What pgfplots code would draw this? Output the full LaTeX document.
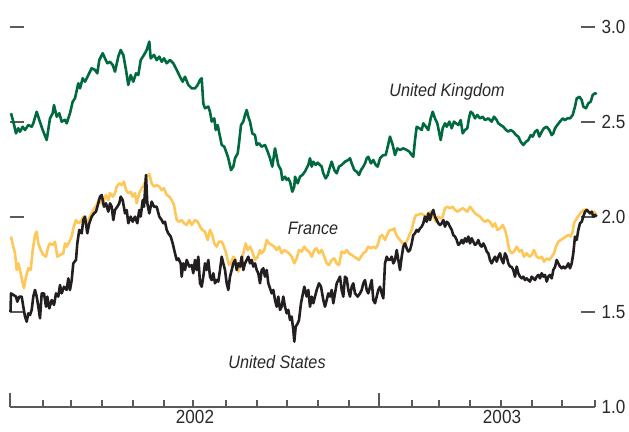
\documentclass[border=0pt]{standalone}
\usepackage{fontspec}
\setmainfont{Liberation Sans}[FakeStretch=0.9]
\usepackage{pgfplots}
\pgfplotsset{compat=1.18}
\definecolor{ukgreen}{RGB}{0,106,62}
\definecolor{frgold}{RGB}{255,198,88}
\definecolor{usblack}{RGB}{35,31,32}
\definecolor{axgray}{RGB}{90,90,90}
\definecolor{txtgray}{RGB}{40,40,40}
\begin{document}
\begin{tikzpicture}
\begin{axis}[
  width=585pt, height=380pt, scale only axis,
  xmin=0, xmax=585, ymin=1, ymax=3,
  clip=false,
  axis line style={draw=none},
  tick align=inside,
  major tick length=14pt,
  minor tick length=7pt,
  tick style={axgray, line width=1.2pt},
  xtick pos=bottom,
  xtick={0,369},
  xticklabels={},
  minor xtick={33,61,92,123,154,183,216,247,277,308,339,402,429,460,491,522,552,585},
  extra x ticks={185,492},
  extra x tick labels={2002,2003},
  extra x tick style={major tick length=0pt, tick style={draw=none}},
  ytick={1,1.5,2,2.5,3},
  ytick pos=both,
  yticklabel pos=right,
  ticklabel style={font=\fontsize{19}{22}\selectfont, text=txtgray},
  /pgf/number format/assume math mode=true,
  yticklabel style={/pgf/number format/.cd, fixed, fixed zerofill, precision=1, /tikz/.cd, xshift=3pt},
]
\draw[axgray, line width=1.3pt] (axis cs:0,1) -- (axis cs:585,1);

\addplot[ukgreen, line width=2.6pt, line join=round] coordinates {
(1,2.546)(3.3,2.502)(6,2.440)(8.3,2.467)(10,2.449)(12.7,2.475)(15,2.458)(18.3,2.484)(21.7,2.475)(23.3,2.493)(26.7,2.554)(29.3,2.511)(32.7,2.458)(36.7,2.405)(40,2.519)(42.7,2.546)(44,2.589)(46.7,2.528)(49.3,2.546)(51.7,2.502)(55,2.511)(56.7,2.493)(60,2.546)(62.7,2.607)(65,2.625)(68.3,2.704)(70,2.677)(72.7,2.730)(75,2.712)(78.3,2.747)(81.7,2.783)(85,2.774)(87.3,2.756)(89.3,2.826)(92.7,2.862)(95,2.835)(97.3,2.809)(100,2.817)(102.7,2.800)(105,2.765)(108.3,2.844)(110.7,2.879)(113.3,2.853)(116,2.774)(118.3,2.695)(120.7,2.747)(123.3,2.712)(126,2.756)(128.3,2.747)(130.7,2.826)(134,2.853)(136.7,2.879)(139.3,2.923)(140.7,2.835)(144,2.853)(146.7,2.826)(149.3,2.844)(151.7,2.817)(154,2.835)(156.7,2.809)(160,2.826)(163.3,2.809)(166.7,2.774)(170,2.738)(172.7,2.712)(175,2.738)(178.3,2.695)(181.7,2.677)(185,2.677)
(187.7,2.695)(190,2.721)(191.7,2.730)(193.3,2.598)(195,2.572)(198.3,2.581)(200,2.554)(201.7,2.502)(204.3,2.519)(205.7,2.458)(207.7,2.484)(209,2.449)(211.7,2.379)(214.3,2.370)(216.7,2.335)(218.3,2.309)(221,2.247)(223.3,2.265)(225,2.309)(227.7,2.335)(229,2.388)(231,2.484)(233.3,2.502)(235,2.537)(236.7,2.563)(238.3,2.528)(240,2.502)(242.3,2.440)(245,2.431)(246.7,2.379)(249,2.388)(251.7,2.370)(255,2.379)(257.7,2.344)(260,2.309)(262.3,2.265)(265,2.361)(266.7,2.317)(268.3,2.274)(271,2.247)(272.3,2.195)(275,2.212)(276.7,2.195)(278.3,2.203)(280,2.186)(282.3,2.133)(284.3,2.160)(285,2.212)(287.7,2.177)(290,2.212)(292.3,2.221)(295,2.239)(298.3,2.274)(300,2.309)(301.7,2.265)(303.3,2.291)(305.7,2.274)(307.7,2.286)(310,2.274)(311.7,2.265)(313.3,2.230)(315.7,2.203)(317.7,2.221)(320,2.265)(321.7,2.291)(324.3,2.247)(326.7,2.230)(329,2.265)(331.7,2.274)(335,2.291)(338.3,2.300)(340,2.309)(341.7,2.282)(344.3,2.247)(346.7,2.239)(349,2.221)(351,2.247)(353.3,2.265)(355,2.282)(356.7,2.309)(358.3,2.317)(361,2.282)(363.3,2.300)(365.7,2.274)(367.7,2.265)(370,2.309)(373.3,2.326)(375.7,2.326)(377.7,2.370)(380,2.423)(382.7,2.379)
(385,2.326)(387.3,2.361)(390,2.353)(393.3,2.361)(396.7,2.353)(399.3,2.344)(401.7,2.326)(403.3,2.317)(405,2.405)(406.7,2.475)(409.3,2.467)(411.7,2.458)(413.3,2.493)(416,2.475)(418.3,2.458)(420.7,2.519)(422.7,2.554)(425,2.519)(427.3,2.493)(429.3,2.440)(430.7,2.405)(432.7,2.467)(435,2.493)(436.7,2.475)(439.3,2.502)(441.7,2.467)(444,2.502)(446,2.493)(448.3,2.484)(450.7,2.510)(452.7,2.440)(455,2.458)(457.3,2.467)(459.3,2.528)(460.7,2.554)(462.7,2.545)(465,2.519)(467.3,2.537)(470,2.519)(472.7,2.528)(475,2.510)(478.3,2.519)(481.7,2.502)(484,2.528)(486.7,2.510)(488.3,2.493)(490.7,2.484)(493.3,2.475)(496,2.458)(498.3,2.449)(500.7,2.458)(503.3,2.449)(506,2.431)(508.3,2.423)(510.7,2.396)(513.3,2.379)(516,2.396)(518.3,2.405)(520.7,2.431)(522.7,2.423)(525,2.449)(527.3,2.458)(529.3,2.423)(531.7,2.449)(534,2.467)(536.7,2.475)(539.3,2.458)(541.7,2.431)(543.3,2.440)(545,2.467)(547.3,2.484)(550,2.502)(552.7,2.519)(555,2.510)(557.3,2.519)(560,2.519)(562.7,2.537)(565,2.581)(566.7,2.624)(569.3,2.633)(571.7,2.616)(573.3,2.581)(576,2.572)(578.3,2.598)(580.7,2.607)(582.7,2.642)(585,2.651)(586.7,2.647)
};

\addplot[frgold, line width=2.6pt, line join=round] coordinates {
(1,1.897)(3.3,1.844)(5,1.809)(6.7,1.721)(8.3,1.756)(10.7,1.704)(12.7,1.651)(14,1.625)(16,1.686)(18.3,1.730)(20.7,1.721)(22.7,1.826)(25,1.905)(26.7,1.923)(28.3,1.861)(30.7,1.826)(33.3,1.800)(36,1.791)(38.3,1.844)(40,1.861)(42.7,1.853)(45,1.870)(47.3,1.791)(50,1.800)(53.3,1.809)(55,1.861)(56.7,1.844)(59.3,1.870)(61.7,1.897)(63.3,1.940)(66,1.984)(68.3,1.967)(70.7,1.975)(73.3,2.002)(76,1.967)(78.3,1.984)(80.7,2.011)(83.3,2.037)(86.7,2.063)(89.3,2.098)(91.7,2.072)(94,2.089)(96,2.116)(98.3,2.089)(100,2.125)(102.7,2.107)(105,2.125)(106.7,2.160)(109.3,2.177)(111.7,2.168)(114,2.186)(116,2.142)(118.3,2.125)(120.7,2.133)(122.7,2.107)(125,2.125)(126.7,2.072)(129.3,2.125)(131.7,2.151)(134,2.168)(136.7,2.212)(139.3,2.226)(141.7,2.177)(144,2.160)(146.7,2.168)(149.3,2.160)(151.7,2.142)(154,2.151)(156.7,2.116)(159.3,2.107)(161.7,2.089)(164,2.063)(166.7,1.984)(169.3,1.975)(171.7,1.984)(174,1.967)(176.7,1.958)(179.3,1.984)(181.7,1.958)
(185,1.984)(187.7,1.975)(190,1.949)(192.3,1.932)(195,1.923)(197.7,1.879)(200,1.932)(202.3,1.905)(204.3,1.861)(206.7,1.844)(209,1.870)(211.7,1.870)(213.3,1.853)(215.7,1.818)(217.7,1.774)(219,1.747)(221,1.756)(223.3,1.791)(225.7,1.774)(228.3,1.712)(231,1.756)(233.3,1.809)(235.7,1.861)(237.7,1.826)(240,1.844)(242.3,1.818)(245,1.774)(247.7,1.791)(250,1.826)(251.7,1.809)(254.3,1.826)(256.7,1.879)(259,1.861)(261.7,1.853)(264.3,1.844)(266.7,1.826)(269,1.844)(271.7,1.809)(274.3,1.826)(276.7,1.818)(279,1.809)(281.7,1.791)(284.3,1.756)(286.7,1.782)(289,1.826)(291.7,1.818)(294.3,1.844)(296.7,1.826)(299,1.818)(301.7,1.791)(304.3,1.826)(306.7,1.835)(309,1.809)(311.7,1.826)(314.3,1.791)(316.7,1.756)(319,1.747)(321.7,1.774)(324.3,1.782)(326.7,1.756)(329,1.747)(331.7,1.818)(334.3,1.809)(336.7,1.826)(339,1.809)(341.7,1.800)(344.3,1.791)(346.7,1.782)(349,1.774)(351,1.791)(353.3,1.809)(355.7,1.818)(358.3,1.844)(361,1.835)(363.3,1.844)(365.7,1.835)(367.7,1.853)(370,1.897)(372.3,1.905)(375,1.879)(377.7,1.914)(380,1.932)(382.3,1.932)(384.3,1.940)
(385,1.923)(387.3,1.897)(390,1.879)(392.7,1.861)(395,1.853)(397.3,1.879)(399.3,1.905)(401.7,1.932)(404,1.984)(406,2.011)(408.3,2.011)(410.7,2.019)(413.3,2.011)(416,2.002)(418.3,2.019)(420.7,2.028)(423.3,2.002)(426,1.975)(428.3,2.002)(430.7,1.993)(432.7,2.002)(435,2.046)(437.3,2.054)(440,2.046)(442.7,2.054)(445,2.037)(447.3,2.028)(450,2.037)(452.7,2.046)(455,2.037)(457.3,2.028)(460,2.054)(462.7,2.037)(465,2.019)(467.3,2.011)(470,2.002)(472.7,1.984)(475,1.975)(477.3,1.984)(480,1.975)(482.7,1.949)(485,1.967)(487.3,1.932)(490,1.940)(492.7,1.958)(495,1.932)(496.7,1.897)(499.3,1.826)(501.7,1.809)(504,1.818)(506.7,1.844)(509.3,1.818)(511.7,1.826)(514,1.791)(516.7,1.809)(519.3,1.791)(521.7,1.800)(524,1.826)(526.7,1.791)(529.3,1.782)(531.7,1.791)(534,1.765)(536.7,1.782)(539.3,1.774)(541.7,1.791)(544,1.809)(546,1.844)(548.3,1.870)(550.7,1.879)(553.3,1.888)(556,1.897)(558.3,1.905)(560.7,1.897)(562.7,1.923)(564,1.967)(566.7,1.993)(569.3,2.011)(571.7,2.028)(574,2.037)(576.7,2.040)(579.3,2.028)(581.7,2.023)(584,2.028)(586.7,2.011)
};

\addplot[usblack, line width=2.6pt, line join=round] coordinates {
(0.5,1.500)(1,1.598)(3.3,1.590)(6,1.581)(7.3,1.554)(9.3,1.581)(11.7,1.581)(13.3,1.528)(15,1.476)(16.7,1.449)(18.3,1.493)(20,1.484)(21.7,1.511)(23.3,1.581)(25,1.616)(26.7,1.581)(28.3,1.528)(30,1.467)(31.7,1.598)(34,1.598)(36,1.528)(37.3,1.581)(39.3,1.519)(41.7,1.563)(44,1.537)(46,1.598)(48.3,1.581)(50,1.642)(51.7,1.598)(54,1.633)(56.7,1.616)(58.3,1.677)(60,1.616)(61.7,1.668)(63.3,1.756)(66,1.774)(67.3,1.861)(69.3,1.932)(71.7,1.914)(73.3,1.984)(75,2.002)(77.3,1.914)(79.3,1.967)(81.7,2.002)(84,2.019)(86,2.028)(88.3,2.072)(90,2.107)(91.7,2.116)(94,2.054)(96,2.072)(98.3,2.028)(100,2.072)(101.7,2.054)(103.3,1.984)(105,2.037)(107.3,2.054)(109.3,2.072)(110.7,2.107)(112.7,2.089)(115,2.019)(116.7,2.037)(118.3,1.967)(120.7,2.002)(122.7,1.975)(125,2.002)(127.3,1.967)(129.3,2.037)(130.7,2.002)(132.7,2.089)(134,2.054)(136,2.221)(137.3,2.072)(139.3,2.019)(141.7,2.081)(144,2.054)(146.7,2.054)(149.3,2.002)(151.7,1.984)(153.3,1.967)(155,1.975)(156.7,1.932)(158.3,1.914)(160.7,1.897)(162.7,1.861)(165,1.809)(166.7,1.774)(168.3,1.782)(170.7,1.756)(171.7,1.686)(173.3,1.756)(175,1.721)(176.7,1.774)(179.3,1.739)(181.7,1.747)(183.3,1.704)
(185,1.774)(186.7,1.721)(188.3,1.791)(190,1.651)(191.7,1.633)(193.3,1.686)(195,1.756)(196.7,1.721)(198.3,1.774)(200,1.686)(201.7,1.668)(203.3,1.704)(205,1.651)(206.7,1.668)(208.3,1.660)(210,1.721)(211.7,1.791)(213.3,1.756)(215,1.721)(216.7,1.651)(218.3,1.616)(220,1.686)(221.7,1.721)(223.3,1.756)(225,1.774)(226.7,1.721)(228.3,1.756)(230,1.739)(231.7,1.791)(233.3,1.721)(235,1.756)(236.7,1.774)(238.3,1.791)(240,1.756)(241.7,1.774)(243.3,1.739)(245,1.756)(246.7,1.721)(248.3,1.704)(250,1.651)(251.7,1.721)(253.3,1.730)(255,1.686)(256.7,1.721)(258.3,1.651)(260,1.625)(261.7,1.598)(263.3,1.616)(265,1.563)(266.7,1.528)(268.3,1.581)(270,1.511)(271.7,1.528)(273.3,1.581)(275,1.528)(276.7,1.493)(278.3,1.511)(280,1.458)(281.7,1.476)(283.3,1.405)(284.3,1.344)(285.7,1.423)(287.7,1.440)(289,1.458)(291,1.546)(292.3,1.581)(294.3,1.633)(296.7,1.581)(298.3,1.616)(300,1.528)(301.7,1.581)(303.3,1.546)(305,1.581)(306.7,1.616)(309,1.651)(311,1.633)(313.3,1.563)(315,1.528)(316.7,1.563)(318.3,1.598)(320,1.581)(321.7,1.616)(323.3,1.546)(325,1.598)(326.7,1.651)(328.3,1.668)(330,1.686)(331.7,1.616)(333.3,1.581)(335,1.686)(336.7,1.677)(338.3,1.616)(340,1.581)(341.7,1.633)(343.3,1.651)(345,1.598)(347.7,1.581)(350,1.598)(351.7,1.616)(353.3,1.651)(355,1.668)(356.7,1.616)(358.3,1.598)(360,1.633)(361.7,1.668)(363.3,1.563)(365,1.546)(366.7,1.581)(368.3,1.616)(370,1.633)(371.7,1.598)(373.3,1.572)(375,1.756)(376.7,1.791)(378.3,1.774)
(380,1.774)(381.7,1.791)(383.3,1.756)(385,1.774)(386.7,1.826)(388.3,1.774)(390,1.721)(391.7,1.791)(393.3,1.844)(395,1.861)(396.7,1.835)(398.3,1.818)(400,1.826)(401.7,1.861)(403.3,1.905)(405,1.914)(406.7,1.932)(408.3,1.923)(410,1.940)(411.7,1.949)(413.3,1.967)(415,2.002)(416.7,1.975)(418.3,2.019)(420,1.984)(421.7,2.019)(423.3,2.037)(425,2.002)(426.7,1.984)(428.3,1.967)(430,1.958)(431.7,1.967)(433.3,1.984)(435,1.949)(436.7,1.975)(438.3,1.967)(440,1.949)(441.7,1.932)(443.3,1.905)(445,1.897)(446.7,1.879)(448.3,1.853)(450,1.861)(451.7,1.879)(453.3,1.861)(455,1.888)(456.7,1.870)(458.3,1.897)(460,1.861)(461.7,1.888)(463.3,1.870)(465,1.853)(466.7,1.861)(468.3,1.879)(470,1.853)(471.7,1.844)(473.3,1.861)(475,1.844)(476.7,1.818)(478.3,1.809)(480,1.774)(481.7,1.756)(483.3,1.774)(485,1.791)(486.7,1.765)(488.3,1.791)(490,1.809)(491.7,1.774)(493.3,1.756)(495,1.809)(496.7,1.791)(498.3,1.756)(500,1.739)(501.7,1.737)(503.3,1.721)(505,1.686)(506.7,1.739)(508.3,1.704)(510,1.686)(511.7,1.677)(513.3,1.686)(515,1.668)(516.7,1.677)(518.3,1.668)(520,1.660)(521.7,1.686)(523.3,1.677)(525,1.668)(526.7,1.686)(528.3,1.695)(530,1.677)(531.7,1.704)(533.3,1.686)(535,1.695)(536.7,1.660)(538.3,1.686)(540,1.695)(541.7,1.677)(543.3,1.721)(545,1.737)(546.7,1.774)(548.3,1.756)(550,1.739)(551.7,1.730)(553.3,1.739)(555,1.730)(556.7,1.739)(558.3,1.756)(560,1.730)(561.7,1.756)(563.3,1.809)(565,1.897)(566.7,1.879)(568.3,1.932)(570,1.967)(571.7,1.975)(573.3,2.002)(575,2.028)(576.7,2.037)(578.3,2.028)(580,2.019)(581.7,2.028)(583.3,2.002)(585,2.011)(586.7,2.002)
};

\node[font=\itshape\fontsize{18}{21}\selectfont, text=txtgray] at (axis cs:437,2.658) {United Kingdom};
\node[font=\itshape\fontsize{18}{21}\selectfont, text=txtgray] at (axis cs:303,1.942) {France};
\node[font=\itshape\fontsize{18}{21}\selectfont, text=txtgray] at (axis cs:267,1.237) {United States};
\end{axis}
\pgfresetboundingbox
\path[use as bounding box] ([xshift=-10pt,yshift=-25pt]current axis.south west) rectangle ([xshift=34pt,yshift=27pt]current axis.north east);
\end{tikzpicture}
\end{document}
